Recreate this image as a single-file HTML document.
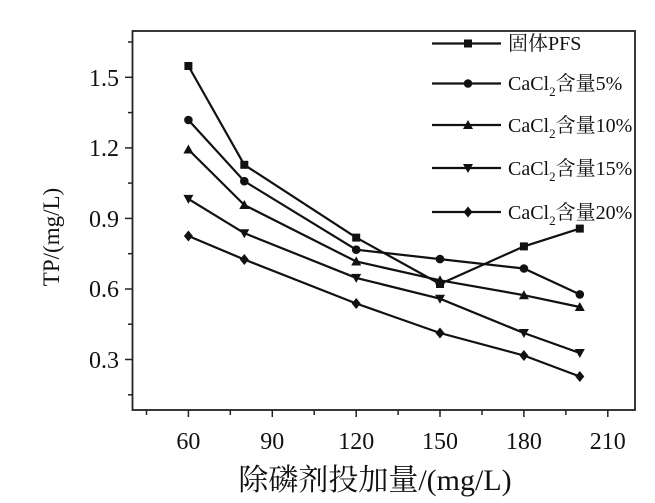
<!DOCTYPE html>
<html><head><meta charset="utf-8"><style>
body{margin:0;background:#fff}
svg text{font-family:"Liberation Serif","Noto Serif CJK SC",serif;fill:#111}
</style></head><body>
<svg width="655" height="498" viewBox="0 0 655 498" xmlns="http://www.w3.org/2000/svg">
<defs>
<g id="sq"><rect x="-4" y="-4" width="8" height="8" fill="#111"/></g>
<g id="ci"><circle r="4.3" fill="#111"/></g>
<g id="tu"><polygon points="0,-5 5,4 -5,4" fill="#111"/></g>
<g id="td"><polygon points="0,5 5,-4 -5,-4" fill="#111"/></g>
<g id="di"><polygon points="0,-5.5 4.5,0 0,5.5 -4.5,0" fill="#111"/></g>
</defs>
<rect x="132.5" y="31" width="502.5" height="379" fill="none" stroke="#222" stroke-width="1.8"/>
<g stroke="#222" stroke-width="1.5">
<line x1="146.5" y1="410" x2="146.5" y2="415"/>
<line x1="188.4" y1="410" x2="188.4" y2="417"/>
<line x1="230.3" y1="410" x2="230.3" y2="415"/>
<line x1="272.3" y1="410" x2="272.3" y2="417"/>
<line x1="314.2" y1="410" x2="314.2" y2="415"/>
<line x1="356.2" y1="410" x2="356.2" y2="417"/>
<line x1="398.1" y1="410" x2="398.1" y2="415"/>
<line x1="440" y1="410" x2="440" y2="417"/>
<line x1="482" y1="410" x2="482" y2="415"/>
<line x1="523.9" y1="410" x2="523.9" y2="417"/>
<line x1="565.9" y1="410" x2="565.9" y2="415"/>
<line x1="607.8" y1="410" x2="607.8" y2="417"/>
<line x1="132.5" y1="77.3" x2="125" y2="77.3"/>
<line x1="132.5" y1="147.9" x2="125" y2="147.9"/>
<line x1="132.5" y1="218.4" x2="125" y2="218.4"/>
<line x1="132.5" y1="289" x2="125" y2="289"/>
<line x1="132.5" y1="359.5" x2="125" y2="359.5"/>
<line x1="132.5" y1="42" x2="128" y2="42"/>
<line x1="132.5" y1="112.6" x2="128" y2="112.6"/>
<line x1="132.5" y1="183.1" x2="128" y2="183.1"/>
<line x1="132.5" y1="253.7" x2="128" y2="253.7"/>
<line x1="132.5" y1="324.2" x2="128" y2="324.2"/>
<line x1="132.5" y1="394.8" x2="128" y2="394.8"/>
</g>
<g font-size="24" text-anchor="end">
<text x="119" y="86">1.5</text><text x="119" y="156">1.2</text><text x="119" y="227">0.9</text><text x="119" y="297">0.6</text><text x="119" y="368">0.3</text>
</g>
<g font-size="24" text-anchor="middle">
<text x="188.4" y="449">60</text><text x="272.3" y="449">90</text><text x="356.2" y="449">120</text><text x="440" y="449">150</text><text x="523.9" y="449">180</text><text x="607.8" y="449">210</text>
</g>
<text x="375" y="490" font-size="30" text-anchor="middle">除磷剂投加量/(mg/L)</text>
<text transform="translate(59,237) rotate(-90)" font-size="23" text-anchor="middle">TP/(mg/L)</text>
<g fill="none" stroke="#111" stroke-width="2.2">
<polyline points="188.4,66 244.3,164.8 356.2,237.6 440,284 523.9,246.4 579.8,228.6"/>
<polyline points="188.4,120 244.3,181.2 356.2,249.7 440,259.1 523.9,268.5 579.8,294.4"/>
<polyline points="188.4,149.5 244.3,205 356.2,261.5 440,280.3 523.9,295.2 579.8,307"/>
<polyline points="188.4,198.9 244.3,233.2 356.2,277.9 440,298.7 523.9,333 579.8,353"/>
<polyline points="188.4,236 244.3,259.5 356.2,303.5 440,333 523.9,355.5 579.8,376.5"/>
</g>
<g>
<use href="#sq" x="188.4" y="66"/><use href="#sq" x="244.3" y="164.8"/><use href="#sq" x="356.2" y="237.6"/><use href="#sq" x="440" y="284"/><use href="#sq" x="523.9" y="246.4"/><use href="#sq" x="579.8" y="228.6"/>
<use href="#ci" x="188.4" y="120"/><use href="#ci" x="244.3" y="181.2"/><use href="#ci" x="356.2" y="249.7"/><use href="#ci" x="440" y="259.1"/><use href="#ci" x="523.9" y="268.5"/><use href="#ci" x="579.8" y="294.4"/>
<use href="#tu" x="188.4" y="149.5"/><use href="#tu" x="244.3" y="205"/><use href="#tu" x="356.2" y="261.5"/><use href="#tu" x="440" y="280.3"/><use href="#tu" x="523.9" y="295.2"/><use href="#tu" x="579.8" y="307"/>
<use href="#td" x="188.4" y="198.9"/><use href="#td" x="244.3" y="233.2"/><use href="#td" x="356.2" y="277.9"/><use href="#td" x="440" y="298.7"/><use href="#td" x="523.9" y="333"/><use href="#td" x="579.8" y="353"/>
<use href="#di" x="188.4" y="236"/><use href="#di" x="244.3" y="259.5"/><use href="#di" x="356.2" y="303.5"/><use href="#di" x="440" y="333"/><use href="#di" x="523.9" y="355.5"/><use href="#di" x="579.8" y="376.5"/>
</g>
<g stroke="#111" stroke-width="2.2">
<line x1="432" y1="43.5" x2="501" y2="43.5"/><line x1="432" y1="83.5" x2="501" y2="83.5"/><line x1="432" y1="125" x2="501" y2="125"/><line x1="432" y1="168" x2="501" y2="168"/><line x1="432" y1="212" x2="501" y2="212"/>
</g>
<use href="#sq" x="468" y="43.5"/><use href="#ci" x="468" y="83.5"/><use href="#tu" x="468" y="125"/><use href="#td" x="468" y="168"/><use href="#di" x="468" y="212"/>
<g font-size="20">
<text x="508" y="50">固体PFS</text>
<text x="508" y="90">CaCl<tspan font-size="13" dy="6">2</tspan><tspan dy="-6">含量5%</tspan></text>
<text x="508" y="132">CaCl<tspan font-size="13" dy="6">2</tspan><tspan dy="-6">含量10%</tspan></text>
<text x="508" y="175">CaCl<tspan font-size="13" dy="6">2</tspan><tspan dy="-6">含量15%</tspan></text>
<text x="508" y="219">CaCl<tspan font-size="13" dy="6">2</tspan><tspan dy="-6">含量20%</tspan></text>
</g>
</svg>
</body></html>
